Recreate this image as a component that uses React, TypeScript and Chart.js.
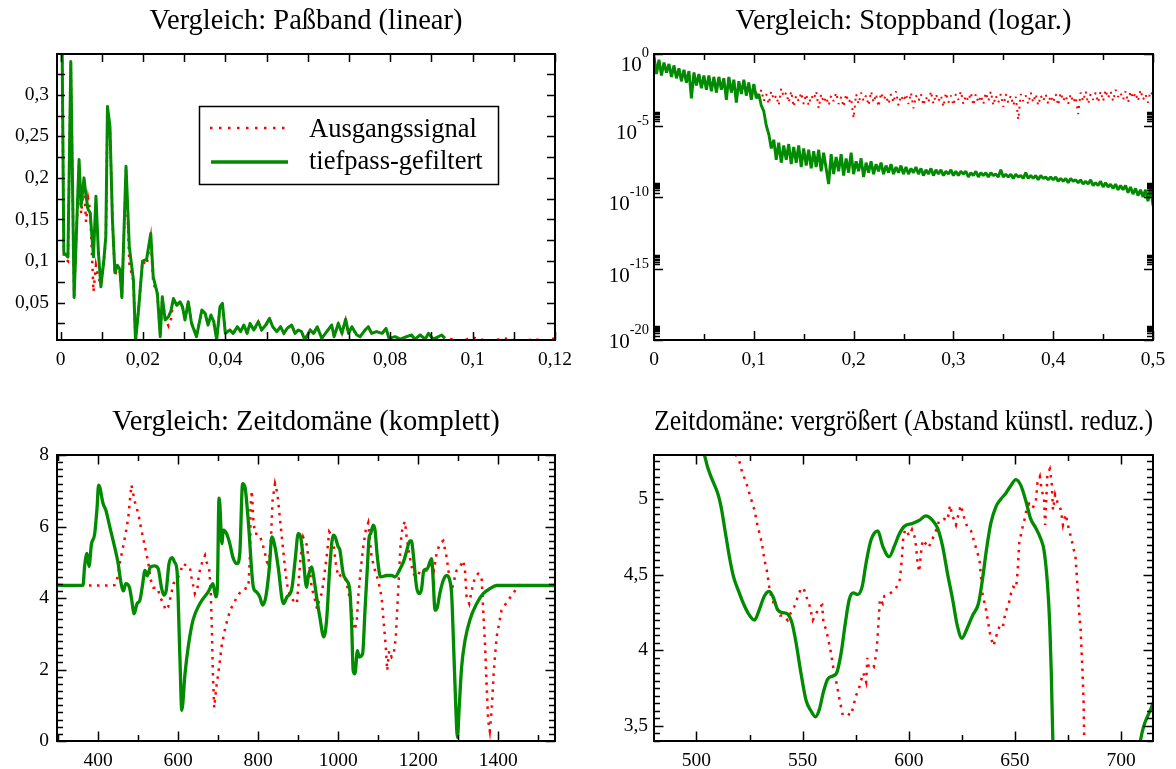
import React, { useEffect, useRef } from "react";
import { Chart, registerables } from "chart.js";

Chart.register(...registerables);

const SERIF = "'Liberation Serif', 'Times New Roman', Times, serif";
const RED = "#ff0000";
const GREEN = "#008b00";
const BLACK = "#000000";

const panelTitles = [
  "Vergleich: Paßband (linear)",
  "Vergleich: Stoppband (logar.)",
  "Vergleich: Zeitdomäne (komplett)",
  "Zeitdomäne: vergrößert (Abstand künstl. reduz.)",
];
const seriesNames = ["Ausgangssignal", "tiefpass-gefiltert"];

// ---------- Passband spectrum (linear magnitude) ----------
const passFreq = [
  0, 0.0008, 0.0018, 0.0025, 0.0033, 0.0045, 0.005, 0.0057, 0.0062, 0.0067,
  0.0072, 0.008, 0.0086, 0.0092, 0.0098, 0.0105, 0.011, 0.0114, 0.012, 0.0126,
  0.0132, 0.0138, 0.0144, 0.0149, 0.0159, 0.0167, 0.0177, 0.0182, 0.019, 0.0199,
  0.0209, 0.0219, 0.0225, 0.0235, 0.0242, 0.0247, 0.0254, 0.0262, 0.0268, 0.0274,
  0.0282, 0.029, 0.0296, 0.0302, 0.031, 0.0318, 0.033, 0.0343, 0.0351, 0.0358,
  0.0365, 0.0372, 0.0379, 0.0387, 0.0393, 0.04, 0.0411, 0.0419, 0.0429, 0.0437,
  0.0445, 0.0453, 0.046, 0.0469, 0.048, 0.0488, 0.0498, 0.0507, 0.0515, 0.0525,
  0.0534, 0.0542, 0.055, 0.0561, 0.0569, 0.0577, 0.0585, 0.0593, 0.0606, 0.0614,
  0.0623, 0.0634, 0.0646, 0.0658, 0.0664, 0.0674, 0.0683, 0.0692, 0.0699, 0.0707,
  0.0719, 0.0727, 0.0739, 0.0747, 0.0755, 0.0767, 0.078, 0.079, 0.0797, 0.0812,
  0.0824, 0.084, 0.0852, 0.086, 0.0873, 0.0885, 0.0893, 0.0905, 0.0925, 0.0933,
  0.095, 0.0975, 0.1, 0.1025, 0.105, 0.1075, 0.11, 0.1125, 0.115, 0.1175, 0.12,
];
const passOriginal = [
  0.6, 0.105, 0.1, 0.338, 0.058, 0.215, 0.157, 0.19, 0.147, 0.175,
  0.16, 0.063, 0.095, 0.08, 0.072, 0.1, 0.125, 0.28, 0.258, 0.15,
  0.083, 0.09, 0.088, 0.056, 0.21, 0.097, 0.075, 0.004, 0.045, 0.1,
  0.095, 0.128, 0.074, 0.06, 0.012, 0.055, 0.031, 0.022, 0.03, 0.052,
  0.047, 0.048, 0.045, 0.031, 0.05, 0.026, 0.01, 0.04, 0.036, 0.024,
  0.034, 0.025, 0.004, 0.044, 0.048, 0.014, 0.017, 0.012, 0.021, 0.015,
  0.022, 0.013, 0.025, 0.016, 0.027, 0.017, 0.022, 0.03, 0.021, 0.015,
  0.02, 0.013, 0.019, 0.023, 0.013, 0.017, 0.015, 0.006, 0.017, 0.012,
  0.02, 0.008, 0.015, 0.022, 0.009, 0.024, 0.013, 0.029, 0.013, 0.02,
  0.011, 0.009, 0.017, 0.02, 0.013, 0.015, 0.012, 0.018, 0.007, 0.008,
  0.006, 0.009, 0.01, 0.006, 0.011, 0.006, 0.012, 0.006, 0.01, 0.007,
  0.006, 0.004, 0.008, 0.005, 0.004, 0.007, 0.005, 0.004, 0.006, 0.004, 0.007,
];
const passFiltered = [
  0.6, 0.11, 0.105, 0.34, 0.056, 0.222, 0.166, 0.2, 0.178, 0.162,
  0.158, 0.105, 0.178, 0.11, 0.069, 0.1, 0.13, 0.286, 0.262, 0.15,
  0.086, 0.095, 0.09, 0.056, 0.214, 0.117, 0.077, 0.003, 0.045, 0.1,
  0.102, 0.133, 0.081, 0.061, 0.009, 0.057, 0.029, 0.033, 0.04, 0.055,
  0.047, 0.051, 0.045, 0.029, 0.051, 0.025, 0.009, 0.041, 0.037, 0.023,
  0.035, 0.027, 0.005, 0.045, 0.049, 0.013, 0.017, 0.013, 0.021, 0.015,
  0.023, 0.013, 0.025, 0.017, 0.027, 0.017, 0.023, 0.031, 0.021, 0.015,
  0.021, 0.013, 0.019, 0.023, 0.013, 0.017, 0.015, 0.005, 0.017, 0.013,
  0.021, 0.007, 0.015, 0.023, 0.009, 0.025, 0.013, 0.03, 0.013, 0.021,
  0.011, 0.009, 0.017, 0.021, 0.013, 0.015, 0.013, 0.019, 0.007, 0.009,
  0.006, 0.009, 0.011, 0.006, 0.011, 0.006, 0.013, 0.006, 0.011, 0.007,
];
const passXTicks = [0, 0.02, 0.04, 0.06, 0.08, 0.1, 0.12];
const passYTicks = [0.05, 0.1, 0.15, 0.2, 0.25, 0.3];

// ---------- Stopband spectrum (log10 of magnitude per bin) ----------
const stopBinWidth = 0.0025;
const stopFilteredExp = [
  -0.2, -1.4, -0.4, -1.5, -0.6, -1.3, -0.7, -1.6, -0.8, -1.7,
  -1.0, -1.9, -1.1, -2.0, -1.2, -3.1, -1.3, -2.2, -1.4, -2.4,
  -1.5, -2.5, -1.5, -2.6, -1.6, -2.7, -1.6, -2.5, -1.7, -3.2,
  -1.6, -2.7, -1.8, -3.4, -1.9, -2.8, -1.8, -2.9, -2.0, -3.2,
  -2.1, -3.1, -2.8, -3.6, -4.0, -5.0, -5.6, -6.6, -6.0, -7.4,
  -6.2, -7.6, -6.4, -7.4, -6.3, -7.7, -6.5, -7.6, -6.4, -7.9,
  -6.6, -7.8, -6.7, -8.0, -6.8, -7.9, -6.7, -8.2, -6.9, -8.0,
  -9.1, -7.0, -8.4, -7.2, -8.2, -7.0, -8.5, -7.3, -8.3, -6.9,
  -8.4, -7.5, -8.2, -7.3, -8.6, -7.6, -8.3, -7.5, -8.4, -7.7,
  -8.2, -7.6, -8.4, -7.8, -8.3, -7.7, -8.4, -7.9, -8.3, -7.8,
  -8.4, -7.9, -8.4, -8.0, -8.3, -7.9, -8.4, -8.0, -8.5, -8.1,
  -8.4, -8.0, -8.5, -8.1, -8.4, -8.1, -8.5, -8.2, -8.4, -8.1,
  -8.5, -8.2, -8.5, -8.2, -8.4, -8.2, -8.6, -8.3, -8.5, -8.2,
  -8.6, -8.3, -8.5, -8.3, -8.6, -8.3, -8.5, -8.4, -8.6, -8.1,
  -8.6, -8.4, -8.6, -8.4, -8.7, -8.4, -8.6, -8.5, -8.7, -8.3,
  -8.7, -8.5, -8.7, -8.5, -8.8, -8.5, -8.7, -8.6, -8.8, -8.6,
  -8.8, -8.6, -8.9, -8.7, -8.9, -8.7, -9.0, -8.7, -8.9, -8.8,
  -9.0, -8.8, -9.1, -8.9, -9.1, -8.8, -9.2, -9.0, -9.2, -8.9,
  -9.3, -9.0, -9.3, -9.1, -9.4, -9.1, -9.5, -9.2, -9.5, -9.2,
  -9.7, -9.3, -9.8, -9.4, -9.9, -9.5, -10.0, -9.5, -10.3, -9.3,
  -10.6,
];
// the unfiltered signal equals the filtered one up to bin 40 (f = 0.1)
const stopSharedBins = 41;
const stopOriginalTailExp = [
  -2.7, -3.1, -2.5, -3.3, -2.8, -3.5, -2.6, -3.2, -2.9, -3.6,
  -2.4, -3.0, -2.7, -3.4, -2.6, -3.7, -2.9, -3.3, -2.7, -3.5,
  -2.8, -3.6, -2.9, -3.2, -2.6, -3.8, -2.8, -3.4, -3.0, -3.6,
  -2.9, -3.3, -2.7, -3.5, -3.0, -3.7, -2.8, -3.4, -3.1, -4.5,
  -2.8, -3.5, -2.7, -3.3, -2.9, -3.6, -2.6, -3.4, -2.8, -3.7,
  -2.7, -3.2, -2.9, -3.5, -2.8, -3.4, -2.6, -3.6, -2.9, -3.3,
  -2.8, -3.5, -2.7, -3.8, -2.9, -3.3, -2.8, -3.6, -3.0, -3.4,
  -2.6, -3.5, -2.8, -3.3, -2.9, -3.7, -2.7, -3.4, -2.9, -3.6,
  -2.8, -3.2, -2.6, -3.5, -2.9, -3.3, -2.7, -3.6, -2.8, -3.4,
  -2.9, -3.5, -2.7, -3.3, -2.6, -3.6, -2.9, -3.4, -2.8, -3.7,
  -2.8, -3.4, -2.9, -3.6, -3.0, -4.6, -2.8, -3.3, -2.9, -3.5,
  -2.7, -3.4, -2.8, -3.6, -2.9, -3.3, -2.8, -3.5, -2.9, -3.4,
  -2.8, -3.6, -2.7, -3.3, -2.9, -3.5, -2.8, -3.4, -3.0, -4.2,
  -2.7, -3.3, -2.6, -3.5, -2.8, -3.2, -2.7, -3.4, -2.6, -3.3,
  -2.5, -3.1, -2.6, -3.3, -2.5, -3.0, -2.7, -3.2, -2.6, -3.4,
  -2.6, -3.1, -2.7, -3.3, -2.5, -3.2, -2.8, -3.4, -2.6, -2.9,
];
const stopXTicks = [0, 0.1, 0.2, 0.3, 0.4, 0.5];
const stopYExps = [0, -5, -10, -15, -20];

// ---------- Time domain, complete ----------
const timeFiltT = [
  297, 330, 362, 366, 372, 377, 383, 391, 397, 401,
  404, 412, 419, 429, 441, 450, 456, 463, 469, 478,
  483, 490, 497, 504, 510, 517, 523, 530, 541, 550,
  558, 564, 570, 577, 585, 591, 597, 604, 609, 617,
  625, 637, 654, 675, 687, 694, 698, 702, 704.5, 709,
  713, 721, 729, 737, 747, 754, 761, 767, 775, 788,
  796, 804, 811, 819, 828, 834, 842, 850, 863, 872,
  884, 893, 900, 906, 912.5, 921, 925, 933.5, 937.5, 946,
  954, 964, 971, 979, 987.5, 992, 1000, 1004, 1012.5, 1021,
  1029, 1033.5, 1037.5, 1042, 1048, 1052.5, 1061, 1067, 1073, 1077.5,
  1081, 1087.5, 1092, 1098, 1106, 1121, 1133.5, 1142, 1154, 1164,
  1171, 1179, 1183, 1187.5, 1196, 1202.5, 1208.5, 1214, 1223, 1229,
  1233.5, 1237.5, 1242, 1248, 1254, 1262.5, 1271, 1279, 1283.5, 1287.5,
  1294, 1298, 1302.5, 1308.5, 1317, 1329, 1346, 1362.5, 1379, 1396,
  1542,
];
const timeFiltV = [
  4.36, 4.35, 4.36, 4.88, 5.25, 4.88, 5.5, 5.78, 6.5, 7.16,
  7.1, 6.65, 6.46, 5.99, 5.43, 4.96, 4.49, 4.2, 4.4, 4.3,
  4.0, 3.56, 3.84, 3.93, 4.3, 4.77, 4.62, 4.86, 4.9, 4.82,
  4.3, 4.08, 4.21, 4.96, 5.13, 5.0, 4.77, 2.44, 0.86, 1.88,
  2.63, 3.38, 3.84, 4.17, 4.4, 4.03, 4.3, 6.79, 6.55, 5.52,
  5.9, 5.8, 5.52, 5.13, 4.96, 5.25, 7.2, 7.1, 6.18, 4.3,
  4.17, 4.03, 3.8, 4.03, 4.86, 5.71, 5.43, 4.86, 3.84, 4.03,
  4.26, 5.13, 5.8, 5.71, 5.13, 4.3, 4.59, 4.87, 4.68, 4.03,
  3.47, 2.91, 3.38, 4.87, 5.76, 5.72, 5.43, 5.35, 4.68, 4.49,
  4.22, 3.28, 1.97, 1.88, 2.53, 2.35, 2.44, 3.66, 4.87, 5.71,
  5.8, 6.04, 5.9, 5.13, 4.59, 4.63, 4.63, 4.59, 4.8, 5.04,
  5.31, 5.6, 5.6, 5.24, 4.3, 4.12, 4.26, 4.77, 4.82, 5.0,
  5.1, 4.49, 3.66, 3.75, 4.12, 4.49, 4.63, 4.49, 4.12, 3.0,
  0.94, 0.1, 0.94, 2.06, 2.81, 3.38, 3.84, 4.12, 4.26, 4.35,
  4.35,
];
const timeOrigT = [
  297, 340, 380, 425, 441, 449, 453.5, 459, 467, 475,
  483, 491.7, 500, 508, 517, 525, 531, 538, 548, 556,
  563, 569, 575, 581, 588, 596, 604, 612, 621, 629,
  633, 641.7, 648, 652, 661, 667, 671, 677, 681, 684,
  686.7, 690, 695, 701, 709, 718, 730, 747, 759, 775.5,
  780, 781, 784, 788, 792, 800, 809, 817, 825, 831,
  836, 842, 848, 853, 859, 865, 871.7, 880, 888, 896.7,
  900, 906, 912.5, 921, 927.5, 933.5, 942, 947, 952.5, 958.5,
  962.5, 971, 977.5, 983, 989, 994, 1000, 1008, 1017, 1025,
  1033.5, 1039, 1046, 1050, 1056, 1062.5, 1069, 1075, 1083.5, 1092,
  1100, 1108.5, 1114, 1119, 1122.5, 1127.5, 1133.5, 1139, 1144, 1147.5,
  1152.5, 1156, 1161, 1167, 1171, 1179, 1187.5, 1196, 1204, 1214,
  1225, 1233.5, 1239, 1246, 1254, 1262.5, 1271, 1279, 1283.5, 1287.5,
  1296, 1304, 1312.5, 1317, 1321, 1327.5, 1333.5, 1342, 1350, 1358.5,
  1362.5, 1367, 1371, 1375, 1379, 1383.5, 1389, 1396, 1408.5, 1425,
  1446, 1458.5, 1475, 1542,
];
const timeOrigV = [
  4.35, 4.35, 4.35, 4.35, 4.36, 4.59, 4.96, 5.25, 5.71, 6.23,
  7.16, 6.69, 6.37, 5.9, 5.43, 5.0, 4.52, 4.29, 4.29, 4.0,
  3.84, 3.66, 3.75, 4.03, 4.4, 4.5, 4.68, 4.96, 4.9, 4.87,
  4.59, 4.12, 4.26, 4.68, 5.04, 5.19, 5.0, 4.86, 4.3, 3.19,
  1.87, 0.93, 1.48, 1.96, 2.68, 3.19, 3.66, 4.03, 4.22, 4.3,
  5.33, 6.55, 7.0, 6.18, 5.8, 5.8, 5.6, 5.25, 4.86, 5.43,
  6.74, 7.2, 6.93, 6.37, 5.71, 5.06, 4.4, 4.03, 3.93, 3.84,
  4.3, 5.14, 5.7, 5.5, 4.96, 4.3, 3.94, 3.7, 3.94, 4.12,
  4.4, 5.14, 5.85, 5.76, 5.43, 4.96, 4.59, 4.65, 4.59, 4.22,
  3.66, 3.1, 3.28, 4.03, 4.77, 5.43, 5.9, 6.1, 5.14, 4.77,
  4.49, 4.03, 3.28, 2.63, 1.97, 2.53, 2.35, 2.44, 2.91, 3.66,
  4.77, 5.52, 6.0, 6.14, 5.71, 5.14, 4.68, 4.59, 4.73, 4.77,
  4.77, 4.96, 4.77, 5.24, 5.52, 5.6, 5.14, 4.49, 4.2, 4.4,
  4.77, 4.87, 5.05, 4.77, 4.03, 3.84, 4.2, 4.59, 4.68, 4.59,
  3.66, 2.72, 1.6, 0.56, 0.28, 0.84, 1.96, 2.91, 3.66, 3.94,
  4.26, 4.4, 4.35, 4.35,
];
const timeXTicks = [400, 600, 800, 1000, 1200, 1400];
const timeYTicks = [0, 2, 4, 6, 8];

// ---------- Time domain, enlarged ----------
const zoomFiltT = [
  495, 501, 503.8, 505.3, 507.7, 510, 511.6, 513.6, 515.5, 517.4,
  519.9, 522.1, 524.6, 527.3, 529.6, 532, 534.3, 536.2, 538.2, 540.6,
  542.9, 545, 546.9, 549.2, 551.6, 553.9, 556, 557.9, 559.7, 561.8,
  564.2, 566, 568.1, 570.1, 572, 573.9, 575.9, 578, 579.9, 582.2,
  585.4, 587.7, 590.8, 593.2, 595.5, 597.8, 601.7, 604.9, 608, 611.2,
  613.5, 615.9, 618.2, 620.6, 622.9, 625, 627.3, 630, 632.8, 634.7,
  636.3, 638.6, 641, 643.3, 645.7, 648, 650.4, 652.8, 655.1, 657.4,
  659.8, 662.1, 663.7, 665.3, 666.4, 667.1, 668, 672, 680, 690,
  700, 706, 709.2, 713.9, 718,
];
const zoomFiltV = [
  5.6, 5.4, 5.29, 5.21, 5.12, 5.04, 4.95, 4.78, 4.62, 4.49,
  4.39, 4.31, 4.24, 4.2, 4.27, 4.36, 4.39, 4.35, 4.27, 4.25,
  4.24, 4.18, 4.05, 3.85, 3.67, 3.6, 3.56, 3.61, 3.72, 3.81,
  3.83, 3.85, 3.98, 4.18, 4.34, 4.38, 4.37, 4.42, 4.58, 4.73,
  4.79, 4.69, 4.62, 4.69, 4.77, 4.82, 4.84, 4.86, 4.89, 4.86,
  4.81, 4.69, 4.51, 4.34, 4.16, 4.08, 4.14, 4.23, 4.31, 4.47,
  4.64, 4.84, 4.95, 5.0, 5.04, 5.09, 5.13, 5.09, 4.99, 4.87,
  4.81, 4.74, 4.66, 4.44, 4.16, 3.85, 3.3, 1.5, 0.9, 1.2,
  2.2, 3.0, 3.41, 3.61, 3.75,
];
const zoomOrigT = [
  515, 518.7, 520.2, 521.5, 523.4, 524.9, 526.2, 527.3, 528.8, 530,
  530.9, 532, 533.1, 534.3, 535.1, 536.4, 537.8, 539.4, 541, 542.9,
  544.5, 546.1, 547.6, 549.2, 550.5, 551.6, 553.2, 554.8, 556.6, 558.2,
  559.2, 559.8, 561, 562.1, 563.4, 564.6, 566, 567.3, 568.9, 571.2,
  572.8, 573.9, 575.1, 576.4, 577.5, 578.6, 579.9, 580.5, 581.1, 582.2,
  583.5, 584.8, 585.8, 586.4, 587.7, 588.5, 590.5, 592.4, 594.3, 595.8,
  596.7, 597.4, 598.3, 600.2, 601.5, 602.6, 603.4, 604.1, 604.9, 605.7,
  606.5, 607.7, 609.3, 610.9, 612.5, 614.3, 616.7, 618.2, 619.4, 620.3,
  622.2, 623.7, 624.5, 626.2, 627.7, 629.3, 630.6, 632, 633.3, 634.8,
  636.1, 637.2, 638.5, 639.9, 641.1, 642.7, 644.2, 645.5, 647.1, 648.2,
  649.2, 650.5, 651.3, 652, 653.3, 654.4, 655.4, 656.7, 658.2, 659.8,
  660.6, 661.7, 662.6, 663.7, 664.2, 665.3, 666.4, 667.3, 667.9, 668.9,
  670, 671.6, 672.6, 673.9, 675.4, 676.7, 677.8, 678.5, 679.3, 680.1,
  680.9, 681.7, 682.3, 682.6, 684, 690,
];
const zoomOrigV = [
  5.45, 5.29, 5.25, 5.18, 5.11, 5.04, 4.98, 4.93, 4.82, 4.76,
  4.7, 4.6, 4.53, 4.42, 4.36, 4.31, 4.28, 4.23, 4.23, 4.2,
  4.25, 4.29, 4.35, 4.41, 4.41, 4.36, 4.3, 4.2, 4.25, 4.29,
  4.3, 4.18, 4.14, 4.07, 3.98, 3.87, 3.78, 3.68, 3.57, 3.58,
  3.57, 3.63, 3.7, 3.74, 3.8, 3.85, 3.79, 3.95, 3.89, 3.9,
  3.89, 3.99, 4.2, 4.34, 4.31, 4.36, 4.37, 4.39, 4.42, 4.47,
  4.6, 4.75, 4.8, 4.76, 4.8, 4.76, 4.69, 4.58, 4.52, 4.64,
  4.73, 4.71, 4.68, 4.73, 4.78, 4.86, 4.87, 4.86, 4.96, 4.9,
  4.83, 4.92, 4.96, 4.87, 4.81, 4.79, 4.73, 4.66, 4.6, 4.36,
  4.29, 4.2, 4.09, 4.03, 4.09, 4.16, 4.15, 4.25, 4.31, 4.38,
  4.42, 4.41, 4.53, 4.71, 4.8, 4.86, 4.93, 4.97, 4.94, 4.98,
  5.11, 5.15, 5.06, 5.0, 4.83, 5.17, 5.2, 5.11, 4.93, 5.03,
  4.98, 4.93, 4.83, 4.9, 4.8, 4.73, 4.66, 4.62, 4.45, 4.27,
  4.14, 3.89, 3.67, 3.41, 2.5, 1.0,
];
const zoomXTicks = [500, 550, 600, 650, 700];
const zoomYTicks = [3.5, 4, 4.5, 5];

// ---------- helpers ----------
const commaNumber = (v: number) =>
  String(parseFloat(Number(v).toFixed(6))).replace(".", ",");

const toPoints = (xs: number[], ys: number[]) =>
  ys.map((y, i) => ({ x: xs[i], y }));

function minorPositions(min: number, max: number, step: number, majors: number[]) {
  const out: number[] = [];
  const k0 = Math.ceil(min / step - 1e-9);
  const k1 = Math.floor(max / step + 1e-9);
  for (let k = k0; k <= k1; k++) {
    const v = k * step;
    if (!majors.some((m) => Math.abs(m - v) < step * 1e-3)) out.push(v);
  }
  return out;
}

type Spec = {
  title: string;
  titleTop: number;
  titleBottom: number;
  xMin: number;
  xMax: number;
  yMin: number;
  yMax: number;
  yLog?: boolean;
  xTicks: number[];
  yTicks: number[];
  xMinor: number[];
  yMinor: number[];
  yAxisWidth: number;
  padRight: number;
  xAxisHeight: number;
  yLabelPad: number;
  majorLen: number;
  minorLen: number;
  hideYLabels?: boolean;
  datasets: any[];
  extra?: any[];
};

// Frame around the plot area with inward ticks on all four sides
function framePlugin(spec: Spec) {
  return {
    id: "frameTicks",
    afterDatasetsDraw(chart: any) {
      const { ctx, chartArea: a, scales } = chart;
      const xs = scales.x;
      const ys = scales.y;
      ctx.save();
      ctx.strokeStyle = BLACK;
      ctx.lineWidth = 1.5;
      ctx.beginPath();
      const xTick = (v: number, len: number) => {
        const p = Math.round(xs.getPixelForValue(v)) + 0.5;
        if (p < a.left - 0.5 || p > a.right + 0.5) return;
        ctx.moveTo(p, a.bottom);
        ctx.lineTo(p, a.bottom - len);
        ctx.moveTo(p, a.top);
        ctx.lineTo(p, a.top + len);
      };
      const yTick = (v: number, len: number) => {
        const p = Math.round(ys.getPixelForValue(v)) + 0.5;
        if (p < a.top - 0.5 || p > a.bottom + 0.5) return;
        ctx.moveTo(a.left, p);
        ctx.lineTo(a.left + len, p);
        ctx.moveTo(a.right, p);
        ctx.lineTo(a.right - len, p);
      };
      spec.xTicks.forEach((v) => xTick(v, spec.majorLen));
      spec.xMinor.forEach((v) => xTick(v, spec.minorLen));
      spec.yTicks.forEach((v) => yTick(v, spec.majorLen));
      spec.yMinor.forEach((v) => yTick(v, spec.minorLen));
      ctx.stroke();
      ctx.lineWidth = 2;
      ctx.strokeRect(a.left, a.top, a.right - a.left, a.bottom - a.top);
      ctx.restore();
    },
  };
}

// Legend box placed inside the passband plot
const passLegendPlugin = {
  id: "passLegend",
  afterDraw(chart: any) {
    const { ctx, chartArea: a } = chart;
    const x0 = a.left + 142;
    const y0 = a.top + 52;
    ctx.save();
    ctx.fillStyle = "#ffffff";
    ctx.fillRect(x0, y0, 300, 79);
    ctx.strokeStyle = BLACK;
    ctx.lineWidth = 1.5;
    ctx.strokeRect(x0 + 0.5, y0 + 0.5, 299, 78);
    ctx.strokeStyle = RED;
    ctx.lineWidth = 2.5;
    ctx.setLineDash([2.5, 6.5]);
    ctx.beginPath();
    ctx.moveTo(x0 + 11, y0 + 22);
    ctx.lineTo(x0 + 87, y0 + 22);
    ctx.stroke();
    ctx.setLineDash([]);
    ctx.strokeStyle = GREEN;
    ctx.lineWidth = 3.5;
    ctx.beginPath();
    ctx.moveTo(x0 + 12, y0 + 56);
    ctx.lineTo(x0 + 89, y0 + 56);
    ctx.stroke();
    ctx.fillStyle = BLACK;
    ctx.font = `26.5px ${SERIF}`;
    ctx.textBaseline = "alphabetic";
    ctx.textAlign = "left";
    ctx.fillText(seriesNames[0], x0 + 110, y0 + 31);
    ctx.fillText(seriesNames[1], x0 + 110, y0 + 63);
    ctx.restore();
  },
};

// Powers of ten with raised exponents for the logarithmic axis
const logLabelPlugin = {
  id: "logLabels",
  afterDraw(chart: any) {
    const { ctx, chartArea: a, scales } = chart;
    const ys = scales.y;
    ctx.save();
    ctx.fillStyle = BLACK;
    ctx.textAlign = "left";
    ctx.textBaseline = "alphabetic";
    for (const e of stopYExps) {
      const y = ys.getPixelForValue(Math.pow(10, e));
      const base = Math.min(Math.max(y + 13, a.top + 17), a.bottom + 8);
      const sup = String(e);
      ctx.font = `14.5px ${SERIF}`;
      const wSup = ctx.measureText(sup).width;
      ctx.font = `21px ${SERIF}`;
      const wBase = ctx.measureText("10").width;
      const right = a.left - 5;
      ctx.fillText("10", right - wSup - wBase, base);
      ctx.font = `14.5px ${SERIF}`;
      ctx.fillText(sup, right - wSup, base - 14);
    }
    ctx.restore();
  },
};

function buildChart(canvas: HTMLCanvasElement, spec: Spec) {
  const tickFont = { family: SERIF, size: 19.5, weight: "normal" as const };
  return new Chart(canvas, {
    type: "line",
    data: { datasets: spec.datasets },
    options: {
      animation: false,
      responsive: false,
      devicePixelRatio: 1,
      events: [],
      layout: { padding: { left: 0, right: spec.padRight, top: 0, bottom: 0 } },
      elements: { point: { radius: 0 } },
      plugins: {
        legend: { display: false },
        tooltip: { enabled: false },
        title: {
          display: true,
          text: spec.title,
          fullSize: false,
          color: BLACK,
          font: { family: SERIF, size: 28.5, weight: "normal", lineHeight: 1.2 },
          padding: { top: spec.titleTop, bottom: spec.titleBottom },
        },
      },
      scales: {
        x: {
          type: "linear",
          min: spec.xMin,
          max: spec.xMax,
          grid: { display: false, drawTicks: false },
          border: { display: false },
          afterBuildTicks: (s: any) => {
            s.ticks = spec.xTicks.map((v) => ({ value: v }));
          },
          afterFit: (s: any) => {
            s.height = spec.xAxisHeight;
          },
          ticks: {
            autoSkip: false,
            maxRotation: 0,
            padding: 8,
            color: BLACK,
            font: tickFont,
            callback: (v: any) => commaNumber(v),
          },
        },
        y: {
          type: spec.yLog ? "logarithmic" : "linear",
          min: spec.yMin,
          max: spec.yMax,
          grid: { display: false, drawTicks: false },
          border: { display: false },
          afterBuildTicks: (s: any) => {
            s.ticks = spec.yTicks.map((v) => ({ value: v }));
          },
          afterFit: (s: any) => {
            s.width = spec.yAxisWidth;
          },
          ticks: {
            autoSkip: false,
            padding: spec.yLabelPad,
            color: BLACK,
            font: tickFont,
            callback: (v: any) => (spec.hideYLabels ? "" : commaNumber(v)),
          },
        },
      },
    } as any,
    plugins: [framePlugin(spec), ...(spec.extra || [])],
  });
}

const lineBase = { pointRadius: 0, fill: false, borderCapStyle: "butt" };

function makeSpecs(): Spec[] {
  // passband
  const p1: Spec = {
    title: panelTitles[0],
    titleTop: 4,
    titleBottom: 15.8,
    xMin: -0.00085,
    xMax: 0.12,
    yMin: 0.005,
    yMax: 0.349,
    xTicks: passXTicks,
    yTicks: passYTicks,
    xMinor: minorPositions(-0.00085, 0.12, 0.01, passXTicks),
    yMinor: minorPositions(0.005, 0.349, 0.025, passYTicks),
    yAxisWidth: 57,
    padRight: 33,
    xAxisHeight: 44,
    yLabelPad: 8,
    majorLen: 8,
    minorLen: 8,
    datasets: [
      {
        ...lineBase,
        label: seriesNames[1],
        data: toPoints(passFreq, passFiltered),
        borderColor: GREEN,
        borderWidth: 3,
        borderJoinStyle: "round",
      },
      {
        ...lineBase,
        label: seriesNames[0],
        data: toPoints(passFreq, passOriginal),
        borderColor: RED,
        borderWidth: 2.5,
        borderDash: [2.5, 5.5],
      },
    ],
    extra: [passLegendPlugin],
  };

  // stopband
  const stopX = stopFilteredExp.map((_, i) => i * stopBinWidth);
  const stopOrigExp = stopFilteredExp.slice(0, stopSharedBins).concat(stopOriginalTailExp);
  const stopYMinor: number[] = [];
  stopYExps.forEach((e) => {
    for (let k = 2; k <= 9; k++) {
      const v = k * Math.pow(10, e);
      if (v <= 1) stopYMinor.push(v);
    }
  });
  const p2: Spec = {
    title: panelTitles[1],
    titleTop: 4,
    titleBottom: 15.8,
    xMin: 0,
    xMax: 0.5,
    yMin: 1e-20,
    yMax: 1,
    yLog: true,
    xTicks: stopXTicks,
    yTicks: stopYExps.map((e) => Math.pow(10, e)),
    xMinor: minorPositions(0, 0.5, 0.05, stopXTicks),
    yMinor: stopYMinor,
    yAxisWidth: 66,
    padRight: 23,
    xAxisHeight: 44,
    yLabelPad: 6,
    majorLen: 9,
    minorLen: 6,
    hideYLabels: true,
    datasets: [
      {
        ...lineBase,
        label: seriesNames[1],
        data: stopFilteredExp.map((e, i) => ({ x: stopX[i], y: Math.pow(10, e) })),
        borderColor: GREEN,
        borderWidth: 2.9,
        borderJoinStyle: "bevel",
      },
      {
        ...lineBase,
        label: seriesNames[0],
        data: stopOrigExp.map((e, i) => ({ x: stopX[i], y: Math.pow(10, e) })),
        borderColor: RED,
        borderWidth: 2,
        borderDash: [2, 5],
        borderJoinStyle: "bevel",
      },
    ],
    extra: [logLabelPlugin],
  };

  // complete time domain
  const p3: Spec = {
    title: panelTitles[2],
    titleTop: 21,
    titleBottom: 15.8,
    xMin: 297,
    xMax: 1542,
    yMin: 0,
    yMax: 8,
    xTicks: timeXTicks,
    yTicks: timeYTicks,
    xMinor: minorPositions(297, 1542, 100, timeXTicks),
    yMinor: minorPositions(0, 8, 0.2, timeYTicks),
    yAxisWidth: 57,
    padRight: 33,
    xAxisHeight: 28,
    yLabelPad: 8,
    majorLen: 9.5,
    minorLen: 6,
    datasets: [
      {
        ...lineBase,
        label: seriesNames[1],
        data: toPoints(timeFiltT, timeFiltV),
        borderColor: GREEN,
        borderWidth: 3.3,
        borderJoinStyle: "round",
        cubicInterpolationMode: "monotone",
      },
      {
        ...lineBase,
        label: seriesNames[0],
        data: toPoints(timeOrigT, timeOrigV),
        borderColor: RED,
        borderWidth: 2.5,
        borderDash: [2.5, 5.5],
      },
    ],
  };

  // enlarged time domain
  const p4: Spec = {
    title: panelTitles[3],
    titleTop: 21,
    titleBottom: 15.8,
    xMin: 480,
    xMax: 715,
    yMin: 3.4,
    yMax: 5.293,
    xTicks: zoomXTicks,
    yTicks: zoomYTicks,
    xMinor: minorPositions(480, 715, 25, zoomXTicks),
    yMinor: minorPositions(3.4, 5.293, 0.05, zoomYTicks),
    yAxisWidth: 66,
    padRight: 23,
    xAxisHeight: 28,
    yLabelPad: 6,
    majorLen: 9.5,
    minorLen: 6,
    datasets: [
      {
        ...lineBase,
        label: seriesNames[1],
        data: toPoints(zoomFiltT, zoomFiltV),
        borderColor: GREEN,
        borderWidth: 3.3,
        borderJoinStyle: "round",
        cubicInterpolationMode: "monotone",
      },
      {
        ...lineBase,
        label: seriesNames[0],
        data: toPoints(zoomOrigT, zoomOrigV),
        borderColor: RED,
        borderWidth: 2.5,
        borderDash: [2.5, 5.5],
      },
    ],
  };
  return [p1, p2, p3, p4];
}

function PanelCanvas(props: { spec: Spec; left: number; top: number; width: number; height: number }) {
  const ref = useRef<HTMLCanvasElement | null>(null);
  useEffect(() => {
    if (!ref.current) return;
    const chart = buildChart(ref.current, props.spec);
    return () => chart.destroy();
  }, []);
  return (
    <canvas
      ref={ref}
      width={props.width}
      height={props.height}
      style={{
        position: "absolute",
        left: props.left,
        top: props.top,
        width: props.width,
        height: props.height,
      }}
    />
  );
}

export default function App() {
  const specs = React.useMemo(makeSpecs, []);
  return (
    <div
      style={{
        position: "absolute",
        left: 0,
        top: 0,
        width: 1176,
        height: 769,
        background: "#ffffff",
        overflow: "hidden",
      }}
    >
      <PanelCanvas spec={specs[0]} left={0} top={0} width={588} height={384} />
      <PanelCanvas spec={specs[1]} left={588} top={0} width={588} height={384} />
      <PanelCanvas spec={specs[2]} left={0} top={384} width={588} height={385} />
      <PanelCanvas spec={specs[3]} left={588} top={384} width={588} height={385} />
    </div>
  );
}
